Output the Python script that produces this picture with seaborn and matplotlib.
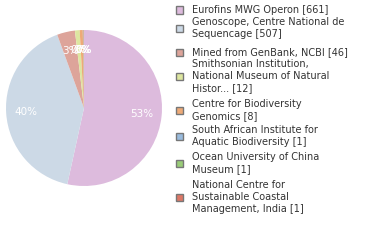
import math
import matplotlib
matplotlib.use("Agg")
import matplotlib.pyplot as plt
from matplotlib.patches import Rectangle
import seaborn as sns

sns.set_theme(style="white")
plt.rcParams['font.family'] = ['DejaVu Sans']

labels = [
    "Eurofins MWG Operon [661]",
    "Genoscope, Centre National de\nSequencage [507]",
    "Mined from GenBank, NCBI [46]",
    "Smithsonian Institution,\nNational Museum of Natural\nHistor... [12]",
    "Centre for Biodiversity\nGenomics [8]",
    "South African Institute for\nAquatic Biodiversity [1]",
    "Ocean University of China\nMuseum [1]",
    "National Centre for\nSustainable Coastal\nManagement, India [1]",
]
values = [661, 507, 46, 12, 8, 1, 1, 1]
colors = ["#ddbbdd", "#ccd9e6", "#dda49a", "#dde6a0", "#eeaa77", "#99bbdd", "#99cc77", "#dd7766"]

W, H = 380, 240
fig = plt.figure(figsize=(W / 100, H / 100), dpi=100)
cx, cy, r = 84, 108, 78
ax = fig.add_axes([(cx - r) / W, (H - cy - r) / H, 2 * r / W, 2 * r / H])

wedges, texts, autotexts = ax.pie(
    values, colors=colors, startangle=90, counterclock=False,
    autopct=lambda p: f"{int(math.floor(p))}%", pctdistance=0.75,
    wedgeprops=dict(linewidth=0), textprops=dict(color="white", fontsize=7.5),
)
ax.set_xlim(-1, 1)
ax.set_ylim(-1, 1)
ax.set_aspect("equal")
ax.axis("off")

# legend
box_y = [10, 28, 52, 76, 110, 136, 163, 197]
for lab, col, by in zip(labels, colors, box_y):
    fig.patches.append(Rectangle((176 / W, 1 - (by + 3.5) / H), 7 / W, 7 / H,
                                 transform=fig.transFigure, facecolor=col,
                                 edgecolor="#777777", linewidth=1))
    lines = lab.split("\n")
    n = len(lines)
    for i, line in enumerate(lines):
        y = by + (i - (n - 1) / 2) * 12
        fig.text(192 / W, 1 - y / H, line, fontsize=7, color="#333333",
                 va="center", ha="left")

fig.savefig("out.png", dpi=100)
